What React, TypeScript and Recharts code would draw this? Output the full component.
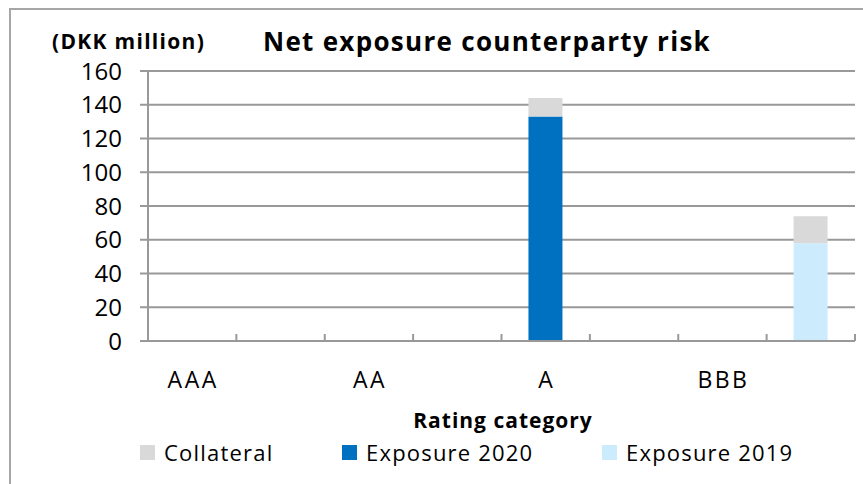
import React from "react";
import { BarChart, Bar, XAxis, YAxis, CartesianGrid } from "recharts";

// Rating categories; each has a 2020 slot and a 2019 slot on the axis
const RATINGS = ["AAA", "AA", "A", "BBB"];
const EXPOSURE_2020 = [0, 0, 133, 0];
const COLLATERAL_2020 = [0, 0, 11, 0];
const EXPOSURE_2019 = [0, 0, 0, 58];
const COLLATERAL_2019 = [0, 0, 0, 16];
const Y_TICKS = [0, 20, 40, 60, 80, 100, 120, 140, 160];

const SERIES = [
  { key: "collateral", name: "Collateral", color: "#D9D9D9", left: 140 },
  { key: "exposure2020", name: "Exposure 2020", color: "#0070C0", left: 342 },
  { key: "exposure2019", name: "Exposure 2019", color: "#CCEBFD", left: 602 },
];

const W = 863;
const H = 484;
const MARGIN = { top: 71, right: 8, bottom: 103, left: 0 };
const Y_AXIS_W = 148;
const SLOT_W = (W - MARGIN.right - Y_AXIS_W) / (RATINGS.length * 2);
const FONT = "'Open Sans', sans-serif";
const GRID = "#999999";

const data = RATINGS.flatMap((r, i) => [
  {
    slot: `${r}-2020`,
    label: r,
    exposure2020: EXPOSURE_2020[i],
    collateral: COLLATERAL_2020[i],
  },
  {
    slot: `${r}-2019`,
    label: "",
    exposure2019: EXPOSURE_2019[i],
    collateral: COLLATERAL_2019[i],
  },
]);

const SlotTick = (props: any) => {
  const { x, y, index } = props;
  const label = data[index]?.label ?? "";
  const last = index === data.length - 1;
  return (
    <g>
      <line
        x1={x - SLOT_W / 2}
        x2={x - SLOT_W / 2}
        y1={y}
        y2={y - 7}
        stroke={GRID}
        strokeWidth={2}
      />
      {last && (
        <line
          x1={x + SLOT_W / 2}
          x2={x + SLOT_W / 2}
          y1={y}
          y2={y - 7}
          stroke={GRID}
          strokeWidth={2}
        />
      )}
      {label && (
        <text
          x={x + 1}
          y={y + 47}
          textAnchor="middle"
          fontSize={23}
          letterSpacing={2.5}
          fill="#000"
        >
          {label}
        </text>
      )}
    </g>
  );
};

export default function App() {
  return (
    <div
      style={{
        position: "fixed",
        left: 0,
        top: 0,
        width: W,
        height: H,
        overflow: "hidden",
        background: "#fff",
        fontFamily: FONT,
      }}
    >
      <div
        style={{
          position: "absolute",
          left: 9,
          top: 8,
          width: W,
          height: H,
          borderLeft: "2px solid #a6a6a6",
          borderTop: "2px solid #a6a6a6",
        }}
      />
      <div
        style={{
          position: "absolute",
          left: 52,
          top: 27,
          fontSize: 21,
          fontWeight: 700,
          letterSpacing: 1.3,
          lineHeight: "28px",
          color: "#000",
        }}
      >
        (DKK million)
      </div>
      <div
        style={{
          position: "absolute",
          left: 0,
          width: 974,
          top: 23,
          textAlign: "center",
          fontSize: 26,
          fontWeight: 700,
          letterSpacing: 1.3,
          lineHeight: "36px",
          color: "#000",
        }}
      >
        Net exposure counterparty risk
      </div>
      <BarChart
        width={W}
        height={H}
        data={data}
        margin={MARGIN}
        barCategoryGap="30.5%"
        style={{ position: "absolute", left: 0, top: 0 }}
      >
        <CartesianGrid vertical={false} stroke={GRID} strokeWidth={2} />
        <XAxis
          dataKey="slot"
          height={40}
          axisLine={{ stroke: GRID, strokeWidth: 2 }}
          tickLine={false}
          tickSize={0}
          tickMargin={0}
          interval={0}
          tick={<SlotTick />}
        />
        <YAxis
          width={Y_AXIS_W}
          domain={[0, 160]}
          ticks={Y_TICKS}
          interval={0}
          axisLine={{ stroke: GRID, strokeWidth: 2 }}
          tickLine={{ stroke: GRID, strokeWidth: 2 }}
          tickSize={8}
          tickMargin={18}
          tick={{ fontSize: 24, fill: "#000" }}
        />
        <Bar
          dataKey="exposure2020"
          stackId="s"
          fill="#0070C0"
          isAnimationActive={false}
        />
        <Bar
          dataKey="exposure2019"
          stackId="s"
          fill="#CCEBFD"
          isAnimationActive={false}
        />
        <Bar
          dataKey="collateral"
          stackId="s"
          fill="#D9D9D9"
          isAnimationActive={false}
        />
      </BarChart>
      <div
        style={{
          position: "absolute",
          left: 0,
          width: 1006,
          top: 405,
          textAlign: "center",
          fontSize: 21,
          fontWeight: 700,
          letterSpacing: 1,
          lineHeight: "30px",
          color: "#000",
        }}
      >
        Rating category
      </div>
      {SERIES.map((s) => (
        <div
          key={s.key}
          style={{
            position: "absolute",
            left: s.left,
            top: 437,
            display: "flex",
            alignItems: "center",
            gap: 9,
            fontSize: 22,
            letterSpacing: 1.2,
            lineHeight: "30px",
            color: "#000",
            whiteSpace: "nowrap",
          }}
        >
          <span
            style={{
              width: 15,
              height: 15,
              background: s.color,
              display: "inline-block",
            }}
          />
          <span>{s.name}</span>
        </div>
      ))}
    </div>
  );
}
